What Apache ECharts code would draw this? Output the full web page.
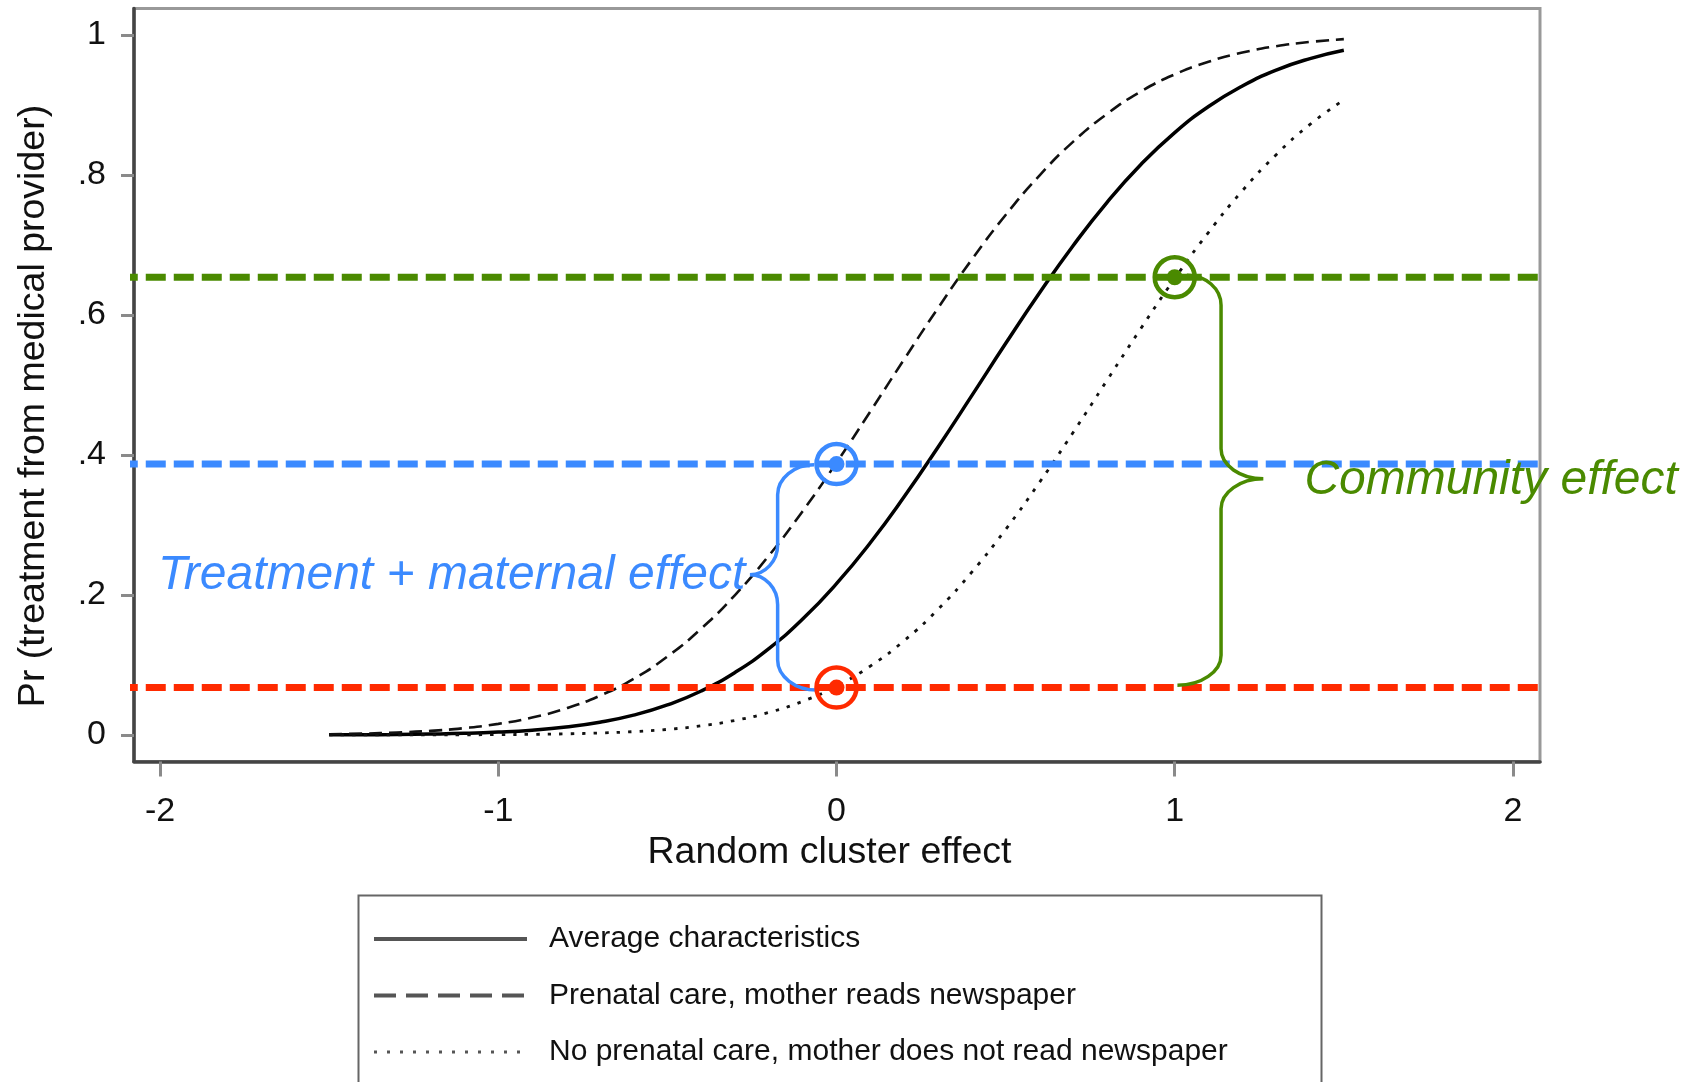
<!DOCTYPE html>
<html>
<head>
<meta charset="utf-8">
<title>Random cluster effect</title>
<script src="https://cdn.jsdelivr.net/npm/echarts@6/dist/echarts.min.js"></script>
<style>
  html, body { margin: 0; padding: 0; background: #fff; }
  #main { width: 1697px; height: 1082px; }
</style>
</head>
<body>
<div id="main"></div>
<script>
// predicted probabilities
const clusterEffect = [-1.5, -1.4, -1.3, -1.2, -1.1, -1.0, -0.9, -0.8, -0.7, -0.6, -0.5, -0.4, -0.3, -0.2, -0.1,
  0, 0.1, 0.2, 0.3, 0.4, 0.5, 0.6, 0.7, 0.8, 0.9, 1.0, 1.1, 1.2, 1.3, 1.4, 1.5]
const avgCharacteristics = [0.0002, 0.0003, 0.0006, 0.0012, 0.0022, 0.004, 0.0068, 0.0113, 0.0181, 0.0282, 0.0428,
  0.0627, 0.0893, 0.1233, 0.1655, 0.2161, 0.2746, 0.3403, 0.4111, 0.4848, 0.5592, 0.6314, 0.6994, 0.7611, 0.8151,
  0.8607, 0.8979, 0.9273, 0.95, 0.9664, 0.9783]
const prenatalReads = [0.001, 0.0019, 0.0034, 0.0058, 0.0097, 0.0158, 0.0248, 0.0378, 0.0559, 0.0801, 0.112,
  0.1518, 0.1999, 0.2562, 0.3197, 0.389, 0.4622, 0.5367, 0.6098, 0.6792, 0.7429, 0.7993, 0.8478, 0.8875, 0.9194,
  0.9438, 0.9619, 0.975, 0.9841, 0.9902, 0.9942]
const noPrenatalNoRead = [0, 0, 0, 0.0001, 0.0002, 0.0004, 0.0008, 0.0015, 0.0027, 0.0047, 0.0079,
  0.013, 0.0207, 0.0321, 0.048, 0.0697, 0.0983, 0.1346, 0.1794, 0.2326, 0.2935, 0.3607, 0.4325, 0.5068, 0.5808,
  0.6521, 0.7182, 0.7776, 0.8291, 0.8724, 0.9074]
const seriesNames = ['Average characteristics', 'Prenatal care, mother reads newspaper',
  'No prenatal care, mother does not read newspaper']

// x and y ticks
const xTicks = [-2, -1, 0, 1, 2]
const yTicks = [0, 0.2, 0.4, 0.6, 0.8, 1]

// horizontal reference levels (green, blue, red) and the marked points on them
const refLevels = [0.654, 0.387, 0.0676]
const refSpan = [-2.125, 2.122]
const markerX = [1, 0, 0]

// braces: [blue, green]
const braceTopEndX = [-0.066, 1.036]
const braceBotEndX = [-0.058, 1.008]
const braceSpineX = [-0.174, 1.137]
const braceTipX = [-0.256, 1.262]
const braceTopY = [0.386, 0.657]
const braceBotY = [0.064, 0.071]
const braceTipY = [0.229, 0.366]

const noteText = ['Treatment + maternal effect', 'Community effect']
const noteX = [-0.262, 1.376]
const noteY = [0.228, 0.363]

const FONT = '"Liberation Sans", Arial, sans-serif'
const refColors = ['#4a8a00', '#3b8aff', '#ff2a00']
const braceColors = ['#3b8aff', '#4a8a00']

const chart = echarts.init(document.getElementById('main'))

function bracePath(params, api) {
  const i = params.dataIndex
  const top = api.coord([braceTopEndX[i], braceTopY[i]])
  const bot = api.coord([braceBotEndX[i], braceBotY[i]])
  const sx = api.coord([braceSpineX[i], 0])[0]
  const tip = api.coord([braceTipX[i], braceTipY[i]])
  const rv = 30, rt = 30
  const d = [
    'M', top[0], top[1],
    'C', top[0] + (sx - top[0]) * 0.55, top[1], sx, top[1] + rv * 0.45, sx, top[1] + rv,
    'L', sx, tip[1] - rt,
    'C', sx, tip[1] - rt * 0.45, sx + (tip[0] - sx) * 0.45, tip[1], tip[0], tip[1],
    'C', sx + (tip[0] - sx) * 0.45, tip[1], sx, tip[1] + rt * 0.45, sx, tip[1] + rt,
    'L', sx, bot[1] - rv,
    'C', sx, bot[1] - rv * 0.45, bot[0] + (sx - bot[0]) * 0.55, bot[1], bot[0], bot[1]
  ].join(' ')
  return {
    type: 'path',
    shape: {pathData: d},
    style: {fill: 'none', stroke: braceColors[i], lineWidth: 3.5}
  }
}

const curve = (name, values, lineStyle) => ({
  name: name,
  type: 'line',
  data: clusterEffect.map((x, i) => [x, values[i]]),
  symbol: 'none',
  smooth: 0.5,
  lineStyle: lineStyle,
  z: 2
})

const option = {
  backgroundColor: '#fff',
  animation: false,
  textStyle: {fontFamily: FONT},
  grid: {
    left: 134,
    right: 157,
    top: 8.5,
    bottom: 320.5,
    show: true,
    borderColor: '#999',
    borderWidth: 3,
    outerBoundsMode: 'none'
  },
  xAxis: {
    type: 'value',
    min: -2.077,
    max: 2.08,
    name: 'Random cluster effect',
    nameLocation: 'middle',
    nameGap: 69,
    nameTextStyle: {fontSize: 37.5, color: '#111', padding: [0, 15, 0, 0]},
    axisLine: {onZero: false, lineStyle: {color: '#444', width: 3.5}},
    axisTick: {customValues: xTicks, length: 15, lineStyle: {color: '#8a8a8a', width: 3}},
    axisLabel: {customValues: xTicks, fontSize: 34, color: '#111', margin: 33},
    splitLine: {show: false}
  },
  yAxis: {
    type: 'value',
    min: -0.038,
    max: 1.038,
    name: 'Pr (treatment from medical provider)',
    nameLocation: 'middle',
    nameGap: 81,
    nameTextStyle: {fontSize: 37.5, color: '#111', padding: [0, 42, 0, 0]},
    axisLine: {onZero: false, lineStyle: {color: '#444', width: 3.5}},
    axisTick: {customValues: yTicks, length: 13, lineStyle: {color: '#8a8a8a', width: 3}},
    axisLabel: {
      customValues: yTicks,
      fontSize: 34,
      color: '#111',
      margin: 28,
      formatter: v => (v === 0 || v === 1) ? String(v) : String(+v.toFixed(1)).replace(/^0/, '')
    },
    splitLine: {show: false}
  },
  legend: {
    data: [
      {name: seriesNames[0], lineStyle: {color: '#555', width: 4}},
      {name: seriesNames[1], lineStyle: {color: '#555', width: 4, type: [22, 10]}},
      {name: seriesNames[2], lineStyle: {color: '#555', width: 3, type: [3, 10]}}
    ],
    orient: 'vertical',
    left: 372,
    top: 924,
    padding: 0,
    itemWidth: 153,
    itemHeight: 30,
    itemGap: 26.5,
    selectedMode: false,
    itemStyle: {opacity: 0},
    textStyle: {fontSize: 30, color: '#111', padding: [0, 0, 0, 17]}
  },
  graphic: [{
    type: 'rect',
    left: 356,
    top: 893,
    shape: {width: 963, height: 188},
    style: {fill: 'none', stroke: '#666', lineWidth: 2}
  }],
  series: [
    curve(seriesNames[0], avgCharacteristics, {color: '#000', width: 3.5}),
    curve(seriesNames[1], prenatalReads, {color: '#111', width: 2.6, type: [13, 7]}),
    curve(seriesNames[2], noPrenatalNoRead, {color: '#111', width: 2.8, type: [3.5, 8]}),
    ...refLevels.map((v, i) => ({
      type: 'line',
      data: refSpan.map(x => [x, v]),
      symbol: 'none',
      clip: false,
      silent: true,
      lineStyle: {color: refColors[i], width: 7, type: [20, 8]},
      z: 3
    })),
    {
      type: 'scatter',
      silent: true,
      symbolSize: 40,
      data: markerX.map((x, i) => ({
        value: [x, refLevels[i]],
        itemStyle: {color: 'rgba(0,0,0,0)', borderColor: refColors[i], borderWidth: 4.5, opacity: 1}
      })),
      z: 4
    },
    {
      type: 'scatter',
      silent: true,
      symbolSize: 16,
      data: markerX.map((x, i) => ({value: [x, refLevels[i]], itemStyle: {color: refColors[i], opacity: 1}})),
      z: 4
    },
    {
      type: 'custom',
      silent: true,
      clip: false,
      renderItem: bracePath,
      data: braceSpineX.map((x, i) => [x, braceTipY[i]]),
      z: 4
    },
    {
      type: 'scatter',
      silent: true,
      symbolSize: 1,
      itemStyle: {color: 'rgba(0,0,0,0)', opacity: 1},
      data: noteX.map((x, i) => ({
        value: [x, noteY[i]],
        label: {position: i === 0 ? 'left' : 'right', color: braceColors[i]}
      })),
      label: {
        show: true,
        formatter: p => noteText[p.dataIndex],
        fontSize: 48,
        fontStyle: 'italic',
        fontFamily: FONT,
        distance: 2
      },
      z: 5
    }
  ]
}

chart.setOption(option)
</script>
</body>
</html>
